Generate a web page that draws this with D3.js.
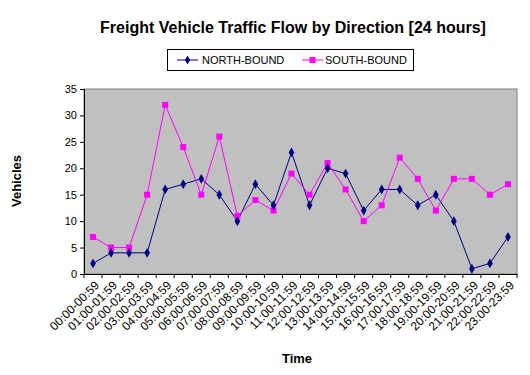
<!DOCTYPE html>
<html><head><meta charset="utf-8">
<script src="https://cdn.jsdelivr.net/npm/d3@7"></script>
<style>body{margin:0;background:#fff;} svg{display:block;font-family:Arial,"Liberation Sans",sans-serif;}</style>
</head><body><svg id="c" width="530" height="375"></svg>
<script>
const categories = ["00:00-00:59","01:00-01:59","02:00-02:59","03:00-03:59","04:00-04:59","05:00-05:59","06:00-06:59","07:00-07:59","08:00-08:59","09:00-09:59","10:00-10:59","11:00-11:59","12:00-12:59","13:00-13:59","14:00-14:59","15:00-15:59","16:00-16:59","17:00-17:59","18:00-18:59","19:00-19:59","20:00-20:59","21:00-21:59","22:00-22:59","23:00-23:59"];
const northBound = [2,4,4,4,16,17,18,15,10,17,13,23,13,20,19,12,16,16,13,15,10,1,2,7];
const southBound = [7,5,5,15,32,24,15,26,11,14,12,19,15,21,16,10,13,22,18,12,18,18,15,17];
const yTicks = [0,5,10,15,20,25,30,35];
const seriesNames = ["NORTH-BOUND","SOUTH-BOUND"];

const svg = d3.select("#c");
const L=84, R=517, T=89, B=274;
const x = d3.scaleBand().domain(categories).range([L,R]);
const y = d3.scaleLinear().domain([0,35]).range([B,T]);

svg.append("rect").attr("x",L).attr("y",T).attr("width",R-L).attr("height",B-T)
  .attr("fill","#c0c0c0").attr("stroke","#808080").attr("stroke-width",1);

// y axis
const ya = svg.append("g").attr("transform",`translate(${L},0)`)
  .call(d3.axisLeft(y).tickValues(yTicks).tickSize(4).tickPadding(3));
ya.select(".domain").attr("stroke","#000");
ya.selectAll("line").attr("stroke","#000");
ya.selectAll("text").attr("font-size","11px").attr("fill","#000");

// x axis
const xa = svg.append("g").attr("transform",`translate(0,${B})`)
  .call(d3.axisBottom(x).tickSize(0).tickFormat(""));
xa.select(".domain").attr("stroke","#000");
svg.append("g").selectAll("line").data(categories.concat([null])).join("line")
  .attr("x1",(d,i)=>L+i*x.step()).attr("x2",(d,i)=>L+i*x.step())
  .attr("y1",B).attr("y2",B+4).attr("stroke","#000");
svg.append("g").selectAll("text").data(categories).join("text")
  .attr("transform",d=>`translate(${x(d)+x.bandwidth()/2+4},${B+9}) rotate(-45)`)
  .attr("text-anchor","end").attr("dy","0.35em").attr("font-size","12px").attr("fill","#000")
  .text(d=>d);

const line = d3.line().x((d,i)=>x(categories[i])+x.bandwidth()/2).y(d=>y(d));
const cx=(d,i)=>x(categories[i])+x.bandwidth()/2;

svg.append("path").datum(northBound).attr("d",line).attr("fill","none").attr("stroke","#000080").attr("stroke-width",1);
svg.append("path").datum(southBound).attr("d",line).attr("fill","none").attr("stroke","#ff00ff").attr("stroke-width",1);
svg.append("g").selectAll("rect").data(southBound).join("rect")
  .attr("x",(d,i)=>cx(d,i)-3).attr("y",d=>y(d)-3).attr("width",6).attr("height",6).attr("fill","#ff00ff");
svg.append("g").selectAll("path").data(northBound).join("path")
  .attr("d",d3.symbol(d3.symbolDiamond,28))
  .attr("transform",(d,i)=>`translate(${cx(d,i)},${y(d)})`).attr("fill","#000080");

// title
svg.append("text").attr("x",293).attr("y",33).attr("text-anchor","middle")
  .attr("font-size","16px").attr("font-weight","bold").text("Freight Vehicle Traffic Flow by Direction [24 hours]");

// legend
svg.append("rect").attr("x",167.5).attr("y",49.5).attr("width",246).attr("height",21).attr("fill","#fff").attr("stroke","#000");
const leg=[{n:seriesNames[0],c:"#000080",lx:177,tx:202},{n:seriesNames[1],c:"#ff00ff",lx:302,tx:325}];
leg.forEach((l,k)=>{
  svg.append("line").attr("x1",l.lx).attr("x2",l.lx+21).attr("y1",60).attr("y2",60).attr("stroke",l.c);
  if(k===0) svg.append("path").attr("d",d3.symbol(d3.symbolDiamond,24)).attr("transform",`translate(${l.lx+10.5},60)`).attr("fill",l.c);
  else svg.append("rect").attr("x",l.lx+7.5).attr("y",57).attr("width",6).attr("height",6).attr("fill",l.c);
  svg.append("text").attr("x",l.tx).attr("y",60).attr("dy","0.35em").attr("font-size","11px").text(l.n);
});

// axis titles
svg.append("text").attr("transform","translate(21,181) rotate(-90)").attr("text-anchor","middle")
  .attr("font-size","13px").attr("font-weight","bold").text("Vehicles");
svg.append("text").attr("x",297).attr("y",363).attr("text-anchor","middle")
  .attr("font-size","13px").attr("font-weight","bold").text("Time");
</script></body></html>
